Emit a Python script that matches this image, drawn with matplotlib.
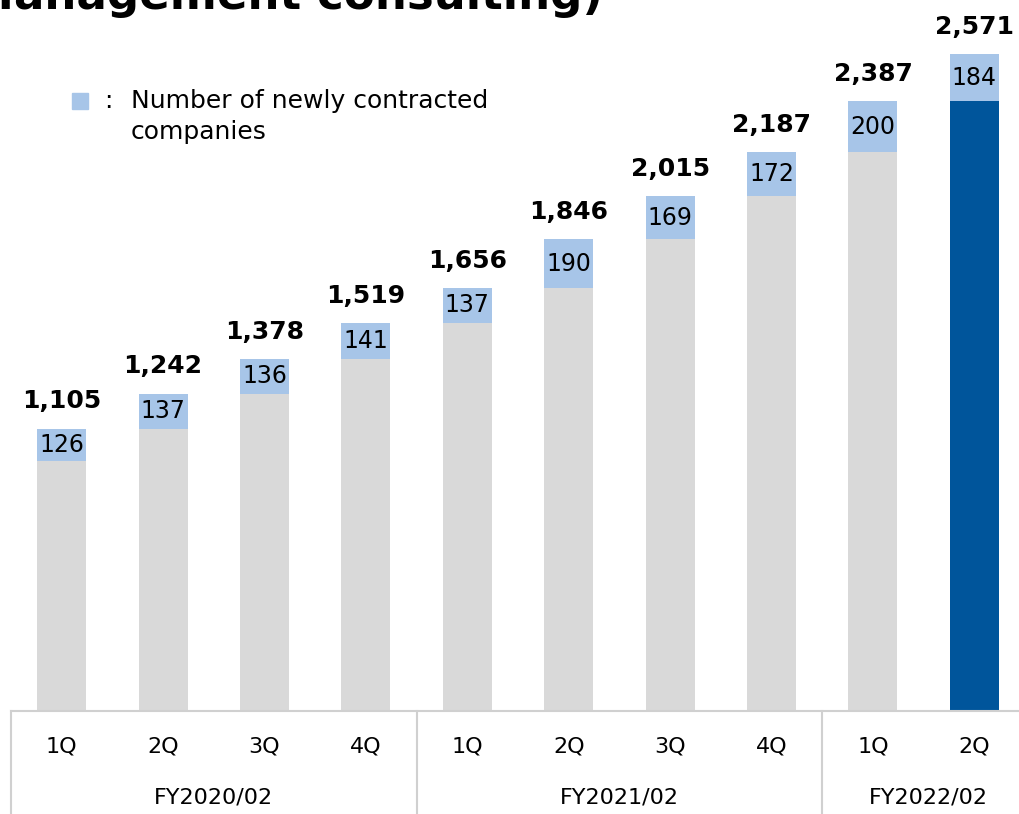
import numpy as np
import matplotlib
matplotlib.use("Agg")
import matplotlib.pyplot as plt
import matplotlib.transforms as mtransforms

quarters = ["1Q", "2Q", "3Q", "4Q", "1Q", "2Q", "3Q", "4Q", "1Q", "2Q"]
fiscal_years = ["FY2020/02", "FY2021/02", "FY2022/02"]
fy_sizes = [4, 4, 2]
totals = [1105, 1242, 1378, 1519, 1656, 1846, 2015, 2187, 2387, 2571]
new_companies = [126, 137, 136, 141, 137, 190, 169, 172, 200, 184]

GRAY = "#d9d9d9"
LIGHT = "#a7c5e8"
DARK = "#00559b"
LINE = "#d0d0d0"

plt.rcParams["font.family"] = ["DejaVu Sans"]

W, H = 1020, 814
fig = plt.figure(figsize=(W / 100, H / 100), dpi=100)
ax = fig.add_axes([11 / W, (H - 711) / H, (W - 11) / W, 711 / H])

x = np.arange(len(totals))
totals_a = np.array(totals)
new_a = np.array(new_companies)
base = totals_a - new_a
base_colors = [GRAY] * (len(x) - 1) + [DARK]

ax.bar(x, base, width=0.483, color=base_colors, zorder=2)
ax.bar(x, new_a, width=0.483, bottom=base, color=LIGHT, zorder=2)

for xi, b, n, t in zip(x, base, new_a, totals_a):
    ax.text(xi, b + n / 2, f"{n}", ha="center", va="center", fontsize=17, zorder=3)
    ax.annotate(f"{t:,}", xy=(xi, t), xytext=(0, 11), textcoords="offset points",
                ha="center", va="bottom", fontsize=18, fontweight="bold")

ax.set_xlim(-0.5, 9.45)
ax.set_ylim(0, 2783)
ax.axis("off")

# category axis: baseline, group separators, labels
trans = mtransforms.blended_transform_factory(ax.transData, ax.transAxes)
ax.plot([-0.5, 9.6], [0, 0], color=LINE, lw=1.5, transform=trans, clip_on=False)
edges = np.concatenate([[0], np.cumsum(fy_sizes)]) - 0.5
for e in edges[:-1]:
    ax.plot([e, e], [0, -0.15], color=LINE, lw=1.5, transform=trans, clip_on=False)
for xi, q in zip(x, quarters):
    ax.text(xi, -0.0506, q, ha="center", va="center", fontsize=16, transform=trans)
for i, fy in enumerate(fiscal_years):
    ax.text((edges[i] + edges[i + 1]) / 2 + (0.05 if i == 2 else 0), -0.121, fy,
            ha="center", va="center", fontsize=16, transform=trans)

# legend
fig.patches.append(plt.Rectangle((72 / W, 1 - 109 / H), 16 / W, 16 / H,
                                 transform=fig.transFigure, color=LIGHT))
fig.text(104 / W, 1 - 101 / H, ":", fontsize=18, va="center")
fig.text(131 / W, 1 - 101 / H, "Number of newly contracted", fontsize=18, va="center")
fig.text(131 / W, 1 - 132 / H, "companies", fontsize=18, va="center")

# title, cut off by the top edge as in the source slide
fig.text(603 / W, 1 - 9 / H, "Management consulting)", fontsize=32.5,
         fontweight="bold", ha="right", va="baseline")

fig.savefig("out.png", dpi=100)
